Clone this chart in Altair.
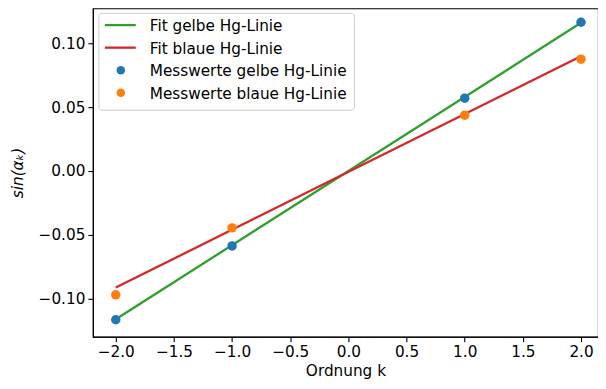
import altair as alt
import pandas as pd

# measured data
k = [-2, -1, 1, 2]
gelb = [-0.1164, -0.0586, 0.0570, 0.1164]
blau = [-0.0969, -0.0445, 0.0437, 0.0875]

# fit lines (evaluated at ends)
fit_k = [-2, 2]
fit_gelb = [-0.1160, 0.1160]
fit_blau = [-0.0912, 0.0898]

series = ["Fit gelbe Hg-Linie", "Fit blaue Hg-Linie",
          "Messwerte gelbe Hg-Linie", "Messwerte blaue Hg-Linie"]
colors = ["#2ca02c", "#d62728", "#1f77b4", "#ff7f0e"]

x_ticks = [-2.0, -1.5, -1.0, -0.5, 0.0, 0.5, 1.0, 1.5, 2.0]
y_ticks = [-0.10, -0.05, 0.0, 0.05, 0.10]

lines_df = pd.DataFrame({
    "k": fit_k + fit_k,
    "v": fit_gelb + fit_blau,
    "Linie": [series[0]] * 2 + [series[1]] * 2,
})
pts_df = pd.DataFrame({
    "k": k + k,
    "v": gelb + blau,
    "Serie": [series[2]] * 4 + [series[3]] * 4,
})

FONT = "DejaVu Sans"
FS = 15.3

xenc = alt.X("k:Q", scale=alt.Scale(domain=[-2.197, 2.146], nice=False, zero=False),
             axis=alt.Axis(values=x_ticks, format=".1f", title="Ordnung k"))
yenc = alt.Y("v:Q", scale=alt.Scale(domain=[-0.1297, 0.1273], nice=False, zero=False),
             axis=alt.Axis(values=y_ticks, format=".2f", title="sin(αₖ)",
                           titleFontStyle="italic"))

lines = alt.Chart(lines_df).mark_line(strokeWidth=2.3).encode(
    x=xenc, y=yenc,
    stroke=alt.Stroke("Linie:N", scale=alt.Scale(domain=series[:2], range=colors[:2]),
                      legend=None),
)

pts = alt.Chart(pts_df).mark_circle(size=90, opacity=1).encode(
    x=xenc, y=yenc,
    color=alt.Color("Serie:N", scale=alt.Scale(domain=series[2:], range=colors[2:]),
                    legend=None),
)

# legend (drawn as a box in the upper-left corner of the plot area)
anchor = pd.DataFrame({"a": [0]})
row_y = [16.8, 39.4, 62.0, 84.6]
leg_layers = [
    alt.Chart(anchor).mark_rect(fill="white", fillOpacity=0.8, stroke="#cccccc",
                                strokeWidth=1, cornerRadius=3).encode(
        x=alt.value(6), x2=alt.value(262), y=alt.value(5), y2=alt.value(102))
]
for i, (name, col) in enumerate(zip(series, colors)):
    if i < 2:
        leg_layers.append(alt.Chart(anchor).mark_rule(color=col, strokeWidth=2.3).encode(
            x=alt.value(12), x2=alt.value(43), y=alt.value(row_y[i])))
    else:
        leg_layers.append(alt.Chart(anchor).mark_circle(color=col, size=72, opacity=1).encode(
            x=alt.value(28), y=alt.value(row_y[i])))
    leg_layers.append(alt.Chart(anchor).mark_text(
        align="left", baseline="middle", font=FONT, fontSize=FS, color="black",
        text=name).encode(x=alt.value(57), y=alt.value(row_y[i] + 1)))

chart = alt.layer(lines, pts, *leg_layers).properties(
    width=506, height=329,
    padding={"left": 2, "top": 0, "right": 0, "bottom": 0},
).configure_view(stroke="black", strokeWidth=1.1).configure_axis(
    labelFont=FONT, labelFontSize=FS, labelColor="black",
    titleFont=FONT, titleFontSize=FS, titleFontWeight="normal", titleColor="black",
    domainColor="black", domainWidth=1.1, tickColor="black", tickWidth=1.1,
    tickSize=5, labelPadding=3, grid=False,
).configure_axisY(titlePadding=13).configure_axisX(titlePadding=4)

chart.save("out.html", embed_options={"renderer": "svg", "actions": False})
